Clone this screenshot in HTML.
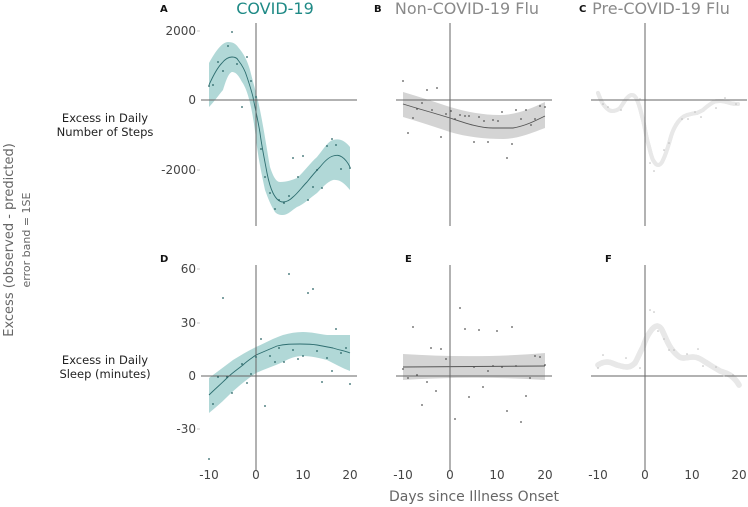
<!DOCTYPE html>
<html><head><meta charset="utf-8"><style>
html,body{margin:0;padding:0;background:#fff;}
svg{display:block;font-family:"DejaVu Sans","Liberation Sans",sans-serif;}
</style></head><body>
<svg width="748" height="507" viewBox="0 0 748 507" xmlns="http://www.w3.org/2000/svg">
<g font-weight="bold" font-size="10" fill="#111">
<text x="160" y="12">A</text><text x="374" y="12">B</text><text x="579" y="12">C</text>
<text x="160" y="262">D</text><text x="405" y="262">E</text><text x="605" y="262">F</text>
</g>
<g font-size="16" text-anchor="middle">
<text x="275" y="14" fill="#1f8a86">COVID-19</text>
<text x="467" y="14" fill="#8a8a8a">Non-COVID-19 Flu</text>
<text x="661" y="14" fill="#8a8a8a">Pre-COVID-19 Flu</text>
</g>
<g font-size="11.5" fill="#222" text-anchor="middle">
<text x="105" y="122">Excess in Daily</text><text x="105" y="136">Number of Steps</text>
<text x="105" y="364">Excess in Daily</text><text x="105" y="378">Sleep (minutes)</text>
</g>
<text transform="translate(13,240) rotate(-90)" font-size="13" fill="#666" text-anchor="middle">Excess (observed - predicted)</text>
<text transform="translate(30,240) rotate(-90)" font-size="11" fill="#666" text-anchor="middle">error band = 1SE</text>
<g font-size="12" fill="#444" text-anchor="end">
<text x="196" y="35">2000</text><text x="196" y="104">0</text><text x="196" y="174">-2000</text>
<text x="196" y="273">60</text><text x="196" y="327">30</text><text x="196" y="380">0</text><text x="196" y="433">-30</text>
</g>
<g stroke="#bbb" stroke-width="0.8">
<line x1="197" y1="31" x2="200" y2="31"/><line x1="197" y1="170" x2="200" y2="170"/>
<line x1="197" y1="269" x2="200" y2="269"/><line x1="197" y1="323" x2="200" y2="323"/><line x1="197" y1="429" x2="200" y2="429"/>
</g>
<g font-size="12" fill="#444" text-anchor="middle">
<text x="209" y="479">-10</text><text x="256" y="479">0</text><text x="303" y="479">10</text><text x="350" y="479">20</text>
<text x="403" y="479">-10</text><text x="450" y="479">0</text><text x="497" y="479">10</text><text x="545" y="479">20</text>
<text x="598" y="479">-10</text><text x="645" y="479">0</text><text x="692" y="479">10</text><text x="739" y="479">20</text>
</g>
<text x="474" y="501" font-size="14" fill="#666" text-anchor="middle">Days since Illness Onset</text>

<!-- Panel A -->
<path d="M209,63 C215,52 222,42 228,42 C233,42 236,44 238,47 C244,54 247,60 250,70 C253,82 257,95 260,110 C264,130 267,150 270,167 C273,176 276,182 280,182 C287,182 292,180 297,178 C304,172 310,163 317,157 C323,150 328,141 333,140 C340,138 345,141 350,147 L350,190 C345,184 340,179 333,180 C327,182 322,188 317,193 C310,198 303,205 297,207 C292,210 288,215 283,215 C279,215 277,214 275,212 C270,204 268,198 265,190 C262,176 259,162 257,147 C255,130 253,115 250,103 C248,94 245,86 242,82 C238,74 235,72 232,72 C228,73 225,84 223,90 C218,96 213,103 209,107 Z" fill="#a9d4d3" opacity="0.9"/>
<path d="M209,85 C213,76 217,68 222,63 C226,58 229,57 232,57 C235,57 237,58 238,60 C242,65 245,70 247,77 C249,83 251,89 253,97 C255,108 258,120 260,133 C262,148 265,162 267,173 C269,183 271,189 273,193 C276,199 279,202 283,202 C287,202 290,200 293,197 C298,193 302,187 307,182 C311,177 316,171 320,167 C324,162 329,157 333,156 C337,155 339,155 342,157 C345,159 348,163 350,167" fill="none" stroke="#2e6e70" stroke-width="0.9"/>
<line x1="256" y1="23" x2="256" y2="226" stroke="#666" stroke-width="1"/>
<line x1="201" y1="100" x2="357" y2="100" stroke="#666" stroke-width="1"/>
<g fill="#245f61">
<circle cx="209" cy="86" r="0.9"/><circle cx="213" cy="85" r="0.9"/><circle cx="218" cy="62" r="0.9"/><circle cx="223" cy="71" r="0.9"/><circle cx="228" cy="46" r="0.9"/><circle cx="232" cy="32" r="0.9"/><circle cx="237" cy="64" r="0.9"/><circle cx="242" cy="107" r="0.9"/><circle cx="247" cy="57" r="0.9"/><circle cx="251" cy="81" r="0.9"/><circle cx="256" cy="97" r="0.9"/><circle cx="261" cy="149" r="0.9"/><circle cx="265" cy="177" r="0.9"/><circle cx="270" cy="193" r="0.9"/><circle cx="275" cy="209" r="0.9"/><circle cx="279" cy="200" r="0.9"/><circle cx="284" cy="203" r="0.9"/><circle cx="289" cy="196" r="0.9"/><circle cx="293" cy="158" r="0.9"/><circle cx="298" cy="177" r="0.9"/><circle cx="303" cy="156" r="0.9"/><circle cx="308" cy="200" r="0.9"/><circle cx="313" cy="187" r="0.9"/><circle cx="317" cy="170" r="0.9"/><circle cx="322" cy="188" r="0.9"/><circle cx="327" cy="146" r="0.9"/><circle cx="332" cy="139" r="0.9"/><circle cx="336" cy="145" r="0.9"/><circle cx="341" cy="169" r="0.9"/><circle cx="350" cy="168" r="0.9"/>
</g>

<!-- Panel D -->
<path d="M209,378 C217,372 225,366 233,360 C241,355 248,351 256,347 C265,343 274,338 283,335 C290,333 296,332 303,332 C311,332 319,334 327,335 C335,335 342,335 350,335 L350,371 C342,368 335,364 327,360 C319,358 311,356 303,356 C296,356 290,358 283,362 C274,366 265,369 256,373 C246,380 236,388 227,397 C221,403 215,408 209,413 Z" fill="#a9d4d3" opacity="0.9"/>
<path d="M209,395 C215,389 221,384 227,378 C232,373 238,369 243,365 C247,361 252,358 256,355 C263,352 270,349 277,346 C285,344 292,344 300,344 C306,344 311,344 317,345 C322,346 328,347 333,348 C339,350 345,351 350,353" fill="none" stroke="#2e6e70" stroke-width="0.9"/>
<line x1="256" y1="265" x2="256" y2="470" stroke="#666" stroke-width="1"/>
<line x1="201" y1="376" x2="357" y2="376" stroke="#666" stroke-width="1"/>
<g fill="#245f61">
<circle cx="209" cy="459" r="0.9"/><circle cx="213" cy="404" r="0.9"/><circle cx="218" cy="377" r="0.9"/><circle cx="223" cy="298" r="0.9"/><circle cx="227" cy="377" r="0.9"/><circle cx="232" cy="393" r="0.9"/><circle cx="242" cy="364" r="0.9"/><circle cx="247" cy="383" r="0.9"/><circle cx="251" cy="374" r="0.9"/><circle cx="256" cy="357" r="0.9"/><circle cx="261" cy="339" r="0.9"/><circle cx="265" cy="406" r="0.9"/><circle cx="270" cy="356" r="0.9"/><circle cx="275" cy="362" r="0.9"/><circle cx="279" cy="348" r="0.9"/><circle cx="284" cy="362" r="0.9"/><circle cx="289" cy="274" r="0.9"/><circle cx="293" cy="350" r="0.9"/><circle cx="298" cy="359" r="0.9"/><circle cx="303" cy="356" r="0.9"/><circle cx="308" cy="293" r="0.9"/><circle cx="313" cy="289" r="0.9"/><circle cx="317" cy="351" r="0.9"/><circle cx="322" cy="382" r="0.9"/><circle cx="327" cy="358" r="0.9"/><circle cx="332" cy="371" r="0.9"/><circle cx="336" cy="329" r="0.9"/><circle cx="341" cy="353" r="0.9"/><circle cx="346" cy="348" r="0.9"/><circle cx="350" cy="384" r="0.9"/>
</g>

<!-- Panel B -->
<path d="M403,92 C420,97 435,102 450,107 C467,112 483,115 500,115 C517,115 532,108 545,102 L545,128 C532,133 517,139 503,139 C485,139 467,137 450,132 C435,127 420,122 403,117 Z" fill="#d4d4d4"/>
<path d="M403,104 C419,109 434,113 450,118 C465,123 479,128 493,128 C500,128 506,128 513,128 C525,126 535,121 545,116" fill="none" stroke="#555" stroke-width="0.9"/>
<line x1="450" y1="23" x2="450" y2="226" stroke="#666" stroke-width="1"/>
<line x1="396" y1="100" x2="552" y2="100" stroke="#666" stroke-width="1"/>
<g fill="#555">
<circle cx="403" cy="81" r="0.9"/><circle cx="408" cy="133" r="0.9"/><circle cx="413" cy="118" r="0.9"/><circle cx="417" cy="109" r="0.9"/><circle cx="422" cy="103" r="0.9"/><circle cx="427" cy="90" r="0.9"/><circle cx="432" cy="110" r="0.9"/><circle cx="437" cy="88" r="0.9"/><circle cx="441" cy="137" r="0.9"/><circle cx="446" cy="114" r="0.9"/><circle cx="451" cy="111" r="0.9"/><circle cx="455" cy="119" r="0.9"/><circle cx="460" cy="115" r="0.9"/><circle cx="465" cy="116" r="0.9"/><circle cx="469" cy="116" r="0.9"/><circle cx="474" cy="142" r="0.9"/><circle cx="479" cy="117" r="0.9"/><circle cx="484" cy="121" r="0.9"/><circle cx="488" cy="142" r="0.9"/><circle cx="493" cy="120" r="0.9"/><circle cx="498" cy="121" r="0.9"/><circle cx="502" cy="112" r="0.9"/><circle cx="507" cy="158" r="0.9"/><circle cx="512" cy="144" r="0.9"/><circle cx="516" cy="110" r="0.9"/><circle cx="521" cy="119" r="0.9"/><circle cx="526" cy="110" r="0.9"/><circle cx="531" cy="125" r="0.9"/><circle cx="535" cy="119" r="0.9"/><circle cx="540" cy="106" r="0.9"/><circle cx="545" cy="107" r="0.9"/>
</g>

<!-- Panel E -->
<path d="M403,354 C450,357 500,357 545,353 L545,380 C500,377 450,377 403,380 Z" fill="#d4d4d4"/>
<line x1="403" y1="367" x2="545" y2="366" stroke="#555" stroke-width="0.9"/>
<line x1="450" y1="265" x2="450" y2="470" stroke="#666" stroke-width="1"/>
<line x1="396" y1="376" x2="552" y2="376" stroke="#666" stroke-width="1"/>
<g fill="#555">
<circle cx="403" cy="369" r="0.9"/><circle cx="408" cy="378" r="0.9"/><circle cx="413" cy="327" r="0.9"/><circle cx="417" cy="375" r="0.9"/><circle cx="422" cy="405" r="0.9"/><circle cx="427" cy="382" r="0.9"/><circle cx="431" cy="348" r="0.9"/><circle cx="436" cy="391" r="0.9"/><circle cx="441" cy="349" r="0.9"/><circle cx="446" cy="359" r="0.9"/><circle cx="455" cy="419" r="0.9"/><circle cx="460" cy="308" r="0.9"/><circle cx="465" cy="329" r="0.9"/><circle cx="469" cy="397" r="0.9"/><circle cx="474" cy="367" r="0.9"/><circle cx="479" cy="330" r="0.9"/><circle cx="483" cy="387" r="0.9"/><circle cx="488" cy="371" r="0.9"/><circle cx="493" cy="366" r="0.9"/><circle cx="497" cy="331" r="0.9"/><circle cx="502" cy="367" r="0.9"/><circle cx="507" cy="411" r="0.9"/><circle cx="512" cy="327" r="0.9"/><circle cx="516" cy="366" r="0.9"/><circle cx="521" cy="422" r="0.9"/><circle cx="526" cy="396" r="0.9"/><circle cx="530" cy="378" r="0.9"/><circle cx="535" cy="356" r="0.9"/><circle cx="540" cy="357" r="0.9"/><circle cx="545" cy="365" r="0.9"/>
</g>

<!-- Panel C -->
<path id="cc" d="M598,93 C600,98 601,101 603,104 C606,108 609,111 612,111 C615,111 618,110 620,108 C623,104 625,100 627,98 C629,96 630,95 632,95 C634,95 636,97 637,100 C640,106 641,113 643,120 C645,128 646,136 648,143 C650,150 651,156 653,160 C655,163 656,165 658,165 C660,165 662,163 663,160 C666,154 668,147 670,140 C672,132 675,126 678,122 C681,118 684,116 687,115 C691,114 694,113 697,113 C699,112 701,111 703,110 C706,107 709,105 712,103 C715,101 717,101 720,101 C723,101 727,102 730,103 C733,104 735,104 738,104" fill="none" stroke="#e8e8e8" stroke-width="4" stroke-linecap="round"/>
<use href="#cc" stroke="#c4c4c4" stroke-width="0.8"/>
<line x1="645" y1="23" x2="645" y2="226" stroke="#666" stroke-width="1"/>
<line x1="591" y1="100" x2="747" y2="100" stroke="#666" stroke-width="1"/>
<g fill="#bbb">
<circle cx="603" cy="104" r="0.8"/><circle cx="608" cy="107" r="0.8"/><circle cx="621" cy="110" r="0.8"/><circle cx="640" cy="99" r="0.8"/><circle cx="650" cy="163" r="0.8"/><circle cx="654" cy="171" r="0.8"/><circle cx="664" cy="150" r="0.8"/><circle cx="669" cy="143" r="0.8"/><circle cx="682" cy="119" r="0.8"/><circle cx="688" cy="119" r="0.8"/><circle cx="695" cy="112" r="0.8"/><circle cx="701" cy="117" r="0.8"/><circle cx="716" cy="108" r="0.8"/><circle cx="725" cy="98" r="0.8"/><circle cx="736" cy="104" r="0.8"/>
</g>

<!-- Panel F -->
<path id="ff" d="M598,365 C601,363 604,362 607,362 C611,362 614,364 617,365 C621,366 624,367 627,367 C630,367 633,365 635,363 C638,358 640,352 643,347 C645,341 647,336 650,332 C652,329 655,326 657,326 C659,326 661,328 662,330 C664,334 666,339 668,343 C670,347 672,350 675,353 C678,356 680,358 683,358 C686,358 690,357 693,357 C696,357 699,358 702,360 C705,362 707,363 710,365 C713,367 717,369 720,371 C723,372 727,373 730,375 C734,378 737,381 739,385" fill="none" stroke="#e8e8e8" stroke-width="5.5" stroke-linecap="round"/>
<use href="#ff" stroke="#c4c4c4" stroke-width="0.8"/>
<line x1="645" y1="265" x2="645" y2="470" stroke="#666" stroke-width="1"/>
<line x1="591" y1="376" x2="747" y2="376" stroke="#666" stroke-width="1"/>
<g fill="#bbb">
<circle cx="598" cy="368" r="0.8"/><circle cx="603" cy="355" r="0.8"/><circle cx="626" cy="358" r="0.8"/><circle cx="640" cy="368" r="0.8"/><circle cx="650" cy="310" r="0.8"/><circle cx="654" cy="312" r="0.8"/><circle cx="658" cy="331" r="0.8"/><circle cx="664" cy="339" r="0.8"/><circle cx="669" cy="350" r="0.8"/><circle cx="674" cy="350" r="0.8"/><circle cx="687" cy="354" r="0.8"/><circle cx="698" cy="349" r="0.8"/><circle cx="703" cy="366" r="0.8"/><circle cx="716" cy="367" r="0.8"/><circle cx="724" cy="376" r="0.8"/><circle cx="733" cy="375" r="0.8"/>
</g>
</svg>
</body></html>
